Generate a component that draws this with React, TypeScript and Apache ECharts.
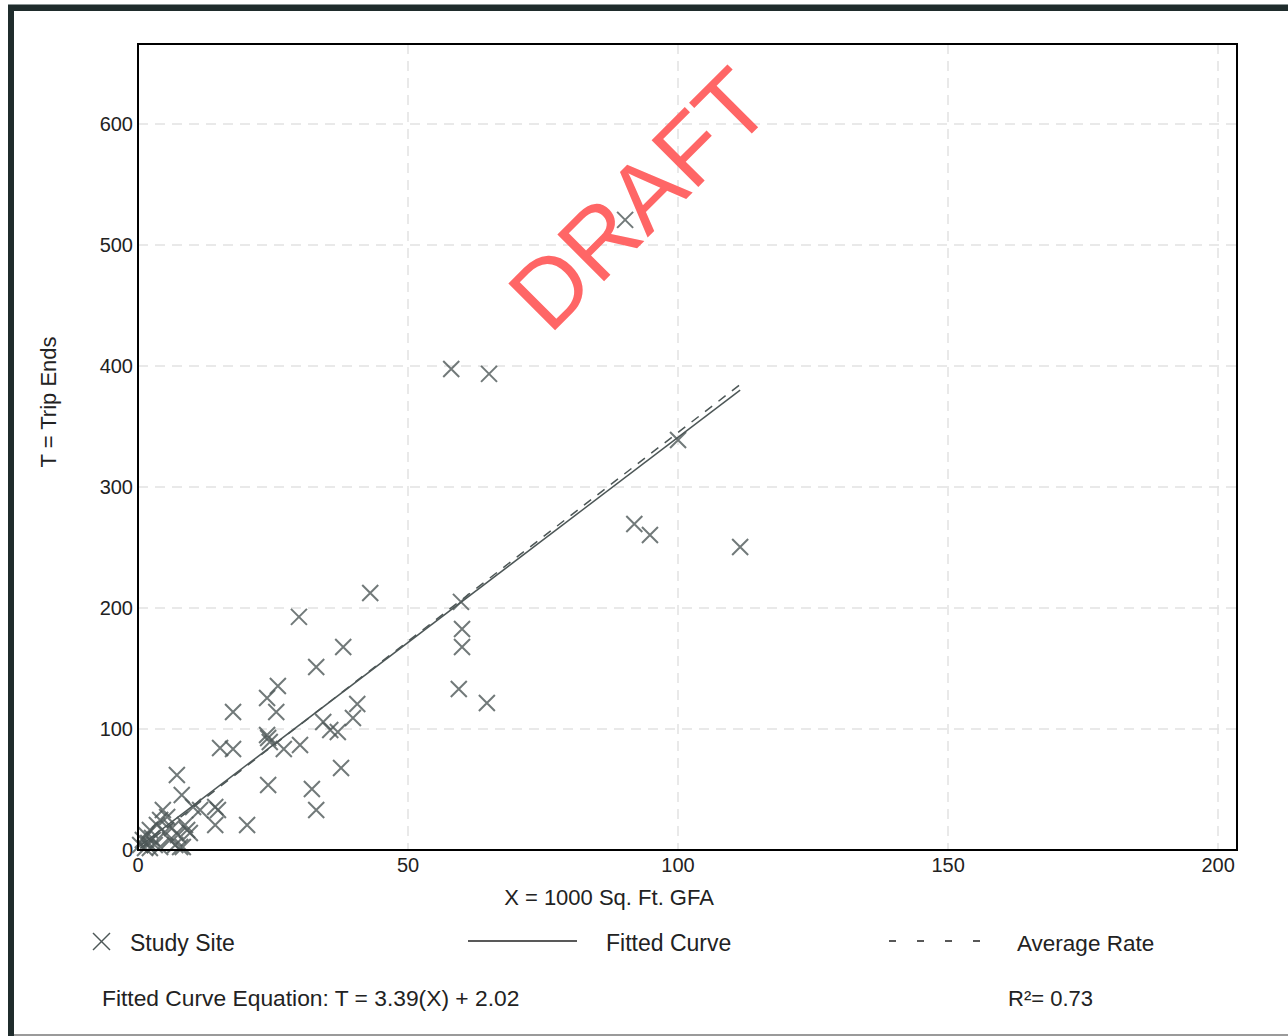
import React, { useEffect, useRef } from "react";
import * as echarts from "echarts";

// Study sites: X = 1000 Sq. Ft. GFA, T = Trip Ends
const siteX = [
  90.2, 58.0, 65.0, 100.0, 91.9, 94.8, 111.5, 43.0, 59.8, 29.8, 60.0, 38.0, 60.0, 33.0, 59.4, 25.9,
  23.9, 64.6, 40.6, 25.6, 17.6, 34.3, 39.8, 35.6, 37.0, 23.9, 24.1, 24.4, 30.0, 27.0, 15.2, 17.6,
  37.6, 7.2, 24.1, 32.2, 8.1, 33.0, 20.2, 14.3, 14.3, 14.8, 10.2, 11.5,
  0.4, 0.9, 1.5, 1.9, 2.2, 2.6, 3.1, 3.5, 4.1, 4.6, 5.0, 5.4, 5.9, 6.3, 6.9, 7.4, 7.8, 8.3, 8.7,
  9.1, 9.6, 4.1, 2.2, 1.3,
];
const siteT = [
  520.7, 397.5, 393.4, 338.8, 269.4, 260.3, 250.4, 212.4, 205.0, 192.6, 182.6, 167.8, 167.8, 151.2,
  133.1, 135.5, 125.6, 121.5, 120.7, 114.0, 114.0, 105.8, 109.1, 99.2, 97.5, 95.0, 92.6, 89.3, 86.8,
  83.5, 84.3, 83.5, 67.8, 62.0, 53.7, 50.4, 45.5, 33.1, 20.7, 20.7, 35.5, 33.1, 35.5, 33.1,
  4.1, 8.3, 12.4, 5.8, 16.5, 9.9, 4.1, 20.7, 24.8, 33.1, 14.9, 27.3, 8.3, 18.2, 4.1, 12.4, 2.5, 2.5,
  20.7, 16.5, 14.0, 2.5, 1.7, 1.7,
];

// Fitted curve T = slope * X + intercept, and average rate
const fitSlope = 3.39;
const fitIntercept = 2.02;
const averageRate = 3.45;
const rSquared = 0.73;

// Axis ticks
const xTickStep = 50;
const yTickStep = 100;
const xAxisMax = 203.5;
const yAxisMax = 666;

const legendLabels = ["Study Site", "Fitted Curve", "Average Rate"];
const xAxisTitle = "X = 1000 Sq. Ft. GFA";
const yAxisTitle = "T = Trip Ends";

const INK = "#4d5757";
const TEXT = "#222222";
const FONT = "'Liberation Sans', Arial, sans-serif";

export default function App() {
  const ref = useRef<HTMLDivElement>(null);

  useEffect(() => {
    if (!ref.current) return;
    const chart = echarts.init(ref.current, undefined, { renderer: "svg" });

    const points = siteX.map((x, i) => [x, siteT[i]]);
    const xMin = Math.min(...siteX);
    const xMax = Math.max(...siteX);
    const fitLine = [
      [xMin, fitSlope * xMin + fitIntercept],
      [xMax, fitSlope * xMax + fitIntercept],
    ];
    const avgLine = [
      [xMin, averageRate * xMin],
      [xMax, averageRate * xMax],
    ];

    const crossPath = "path://M0,0L10,10M10,0L0,10";
    const gridL = 138, gridT = 44, gridW = 1099, gridH = 806;

    const split = {
      show: true,
      showMinLine: false,
      showMaxLine: false,
      lineStyle: { color: "#e2e2e2", width: 1.5, type: [10, 7] },
    };

    chart.setOption({
      animation: false,
      backgroundColor: "#ffffff",
      grid: {
        left: gridL,
        top: gridT,
        width: gridW,
        height: gridH,
        show: false,
        containLabel: false,
      },
      xAxis: {
        type: "value",
        min: 0,
        max: xAxisMax,
        interval: xTickStep,
        axisLine: { show: false },
        axisTick: { show: false },
        axisLabel: {
          fontFamily: FONT,
          fontSize: 20,
          color: TEXT,
          margin: 5,
          formatter: (v: number) => (v % xTickStep === 0 ? String(v) : ""),
        },
        splitLine: split,
      },
      yAxis: {
        type: "value",
        min: 0,
        max: yAxisMax,
        interval: yTickStep,
        axisLine: { show: false },
        axisTick: { show: false },
        axisLabel: {
          fontFamily: FONT,
          fontSize: 20,
          color: TEXT,
          margin: 5,
          formatter: (v: number) => (v % yTickStep === 0 ? String(v) : ""),
        },
        splitLine: split,
      },
      series: [
        {
          name: legendLabels[2],
          type: "line",
          data: avgLine,
          showSymbol: false,
          lineStyle: { color: INK, width: 1.5, type: [9, 8] },
          z: 3,
        },
        {
          name: legendLabels[1],
          type: "line",
          data: fitLine,
          showSymbol: false,
          lineStyle: { color: INK, width: 1.5 },
          z: 3,
        },
        {
          name: legendLabels[0],
          type: "scatter",
          data: points,
          symbol: crossPath,
          symbolSize: 16,
          itemStyle: { color: "transparent", borderColor: INK, borderWidth: 2 },
          z: 4,
        },
      ],
      graphic: [
        // outer frame
        { type: "rect", silent: true, shape: { x: 8, y: 4, width: 1290, height: 1 }, style: { fill: "#8a9494" } },
        { type: "rect", silent: true, shape: { x: 8, y: 5, width: 1290, height: 6 }, style: { fill: "#1f2c2c" } },
        { type: "rect", silent: true, shape: { x: 8, y: 5, width: 6, height: 1040 }, style: { fill: "#1f2c2c" } },
        { type: "rect", silent: true, shape: { x: 14, y: 1034, width: 1290, height: 2 }, style: { fill: "#9a9a9a" } },
        // plot box
        {
          type: "rect",
          silent: true,
          z: 50,
          shape: { x: gridL, y: gridT, width: gridW, height: gridH },
          style: { fill: "none", stroke: "#000000", lineWidth: 2 },
        },
        // axis titles
        {
          type: "text",
          x: 609,
          y: 897,
          silent: true,
          style: { text: xAxisTitle, fontFamily: FONT, fontSize: 22, fill: TEXT, align: "center", verticalAlign: "middle" },
        },
        {
          type: "text",
          x: 48,
          y: 402,
          rotation: Math.PI / 2,
          silent: true,
          style: { text: yAxisTitle, fontFamily: FONT, fontSize: 22, fill: TEXT, align: "center", verticalAlign: "middle" },
        },
        // DRAFT watermark
        {
          type: "text",
          x: 639,
          y: 199,
          rotation: Math.PI / 4,
          silent: true,
          z: 1,
          style: {
            text: "DRAFT",
            fontFamily: FONT,
            fontSize: 96,
            fill: "#ff6666",
            align: "center",
            verticalAlign: "middle",
          },
        },
        // legend: study site
        {
          type: "line",
          silent: true,
          shape: { x1: 93, y1: 933, x2: 110, y2: 950 },
          style: { stroke: INK, lineWidth: 1.5 },
        },
        {
          type: "line",
          silent: true,
          shape: { x1: 110, y1: 933, x2: 93, y2: 950 },
          style: { stroke: INK, lineWidth: 1.5 },
        },
        {
          type: "text",
          x: 130,
          y: 943,
          silent: true,
          style: { text: legendLabels[0], fontFamily: FONT, fontSize: 23, fill: TEXT, verticalAlign: "middle" },
        },
        // legend: fitted curve
        {
          type: "line",
          silent: true,
          shape: { x1: 468, y1: 941, x2: 577, y2: 941 },
          style: { stroke: TEXT, lineWidth: 1.5 },
        },
        {
          type: "text",
          x: 606,
          y: 943,
          silent: true,
          style: { text: legendLabels[1], fontFamily: FONT, fontSize: 23, fill: TEXT, verticalAlign: "middle" },
        },
        // legend: average rate
        {
          type: "line",
          silent: true,
          shape: { x1: 889, y1: 941, x2: 980, y2: 941 },
          style: { stroke: TEXT, lineWidth: 1.5, lineDash: [7, 21] },
        },
        {
          type: "text",
          x: 1017,
          y: 943,
          silent: true,
          style: { text: legendLabels[2], fontFamily: FONT, fontSize: 22.5, fill: TEXT, verticalAlign: "middle" },
        },
        // equation & R²
        {
          type: "text",
          x: 102,
          y: 998,
          silent: true,
          style: {
            text: `Fitted Curve Equation: T = ${fitSlope.toFixed(2)}(X) + ${fitIntercept.toFixed(2)}`,
            fontFamily: FONT,
            fontSize: 22.8,
            fill: TEXT,
            verticalAlign: "middle",
          },
        },
        {
          type: "text",
          x: 1008,
          y: 998,
          silent: true,
          style: {
            text: `R²= ${rSquared.toFixed(2)}`,
            fontFamily: FONT,
            fontSize: 22,
            fill: TEXT,
            verticalAlign: "middle",
          },
        },
      ],
    });

    return () => chart.dispose();
  }, []);

  return (
    <div
      ref={ref}
      style={{ position: "fixed", left: 0, top: 0, width: 1288, height: 1036, background: "#fff" }}
    />
  );
}
